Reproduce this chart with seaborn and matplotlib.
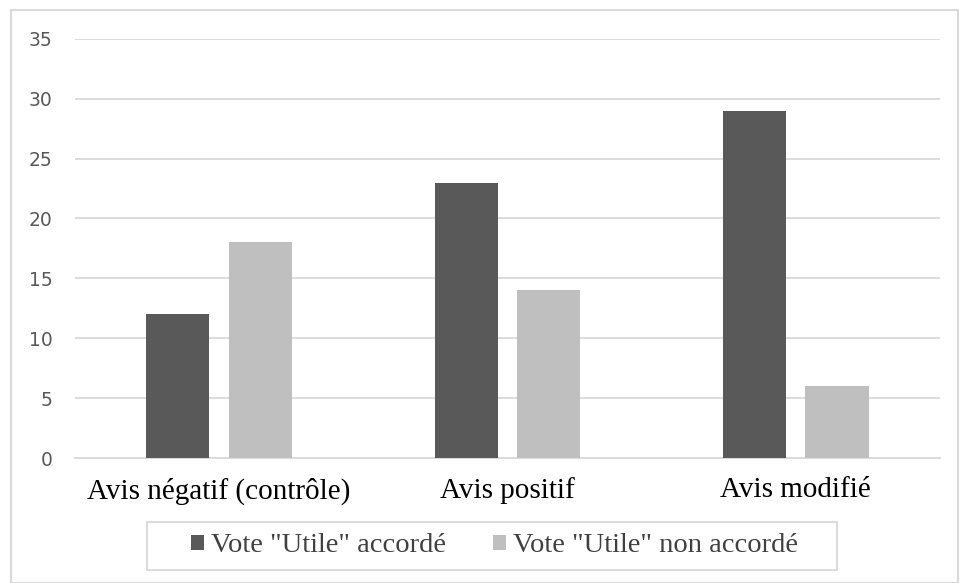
import numpy as np
import pandas as pd
import matplotlib.pyplot as plt
import seaborn as sns
from matplotlib.patches import Rectangle

categories = ["Avis négatif (contrôle)", "Avis positif", "Avis modifié"]
series = ['Vote "Utile" accordé', 'Vote "Utile" non accordé']
accorde = [12, 23, 29]
non_accorde = [18, 14, 6]
yticks = [0, 5, 10, 15, 20, 25, 30, 35]

df = pd.DataFrame({
    "Catégorie": categories * 2,
    "Vote": [series[0]] * 3 + [series[1]] * 3,
    "Valeur": accorde + non_accorde,
})

sns.set_style("white")
fig = plt.figure(figsize=(9.6, 5.83), dpi=100)
ax = fig.add_axes([0.078, 0.2144, 0.901, 0.719])

sns.barplot(data=df, x="Catégorie", y="Valeur", hue="Vote",
            palette=["#595959", "#BFBFBF"], width=0.573, gap=0.236,
            edgecolor="none", ax=ax, zorder=3)

ax.set_ylim(0, 35)
ax.set_xlim(-0.5, 2.5)
ax.set_yticks(yticks)
ax.yaxis.grid(True, color="#D9D9D9", linewidth=1.3, zorder=0)
ax.set_axisbelow(True)
for s in ["top", "right", "left"]:
    ax.spines[s].set_visible(False)
ax.spines["bottom"].set_color("#D9D9D9")
ax.spines["bottom"].set_linewidth(1.3)
ax.tick_params(axis="y", length=0, pad=16, labelsize=13.5, labelcolor="#595959")
ax.tick_params(axis="x", length=0, pad=14)
for lbl in ax.get_yticklabels():
    lbl.set_family("DejaVu Sans")
for lbl in ax.get_xticklabels():
    lbl.set_family("Liberation Serif")
    lbl.set_fontsize(21)
    lbl.set_color("#000000")
ax.set_xlabel("")
ax.set_ylabel("")

# legend without frame, box drawn separately
handles, labels = ax.get_legend_handles_labels()
ax.legend(handles, labels, loc="center", bbox_to_anchor=(0.515, 0.0635),
          bbox_transform=fig.transFigure,
          ncol=2, frameon=False,
          prop={"family": "Liberation Serif", "size": 20.5},
          handlelength=0.46, handleheight=0.46, handletextpad=0.25,
          columnspacing=1.65)
leg = ax.get_legend()
for t in leg.get_texts():
    t.set_color("#404040")

fig.patches.append(Rectangle((147 / 960, 1 - 570 / 583), 690 / 960, 48 / 583,
                             transform=fig.transFigure, fill=False,
                             edgecolor="#D9D9D9", linewidth=1.3))
fig.patches.append(Rectangle((0.011, 0.0), 0.987, 0.983, transform=fig.transFigure,
                             fill=False, edgecolor="#D9D9D9", linewidth=1.5))

fig.savefig("out.png", dpi=100)
